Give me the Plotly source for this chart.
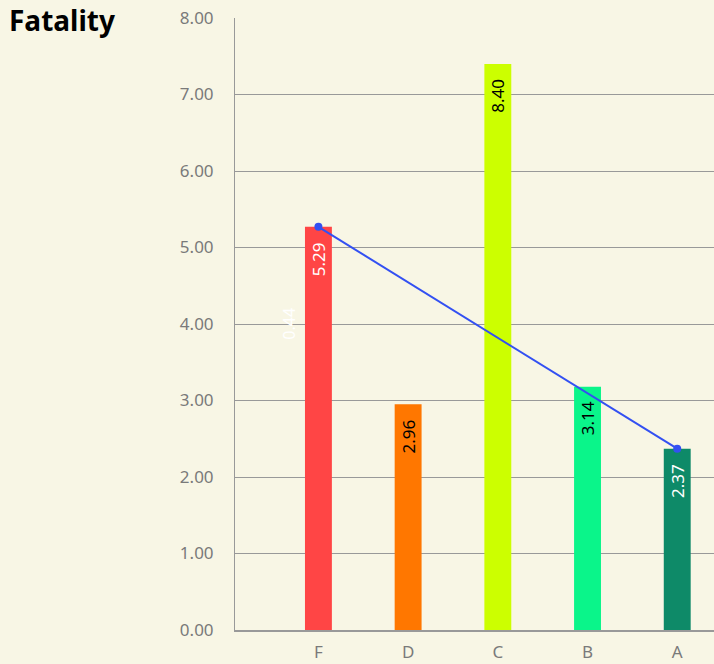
import plotly.graph_objects as go

categories = ["F", "D", "C", "B", "A"]
bar_heights = [5.27, 2.95, 7.40, 3.18, 2.37]
bar_labels = ["5.29", "2.96", "8.40", "3.14", "2.37"]
bar_colors = ["#FF4545", "#FF7700", "#CCFF00", "#0AF58A", "#0E8A68"]
label_colors = ["white", "black", "black", "black", "white"]
line_values = [5.27, None, None, None, 2.37]
y_ticks = [0, 1, 2, 3, 4, 5, 6, 7, 8]
extra_label = "0.44"
extra_label_y = 4.01

fig = go.Figure()
fig.add_trace(
    go.Bar(
        x=categories,
        y=bar_heights,
        marker=dict(color=bar_colors, line=dict(width=0)),
        width=0.3,
        hovertext=bar_labels,
        showlegend=False,
    )
)
fig.add_trace(
    go.Scatter(
        x=categories,
        y=line_values,
        mode="lines+markers",
        connectgaps=True,
        line=dict(color="#3350F2", width=2),
        marker=dict(color="#3350F2", size=8),
        showlegend=False,
    )
)

# value labels, rotated, inside the top of each bar
for cat, h, lab, col in zip(categories, bar_heights, bar_labels, label_colors):
    fig.add_annotation(
        x=cat, y=h, text=lab, textangle=-90,
        yanchor="top", yshift=-13, showarrow=False,
        font=dict(color=col, size=17, family="Noto Sans"),
    )

fig.add_annotation(
    x=categories[0], y=extra_label_y, text=extra_label, textangle=-90,
    xshift=-29, showarrow=False,
    font=dict(color="white", size=16, family="Noto Sans"),
)
fig.add_annotation(
    xref="paper", yref="paper", x=-0.475, y=0.997, xanchor="left", yanchor="middle",
    text="<b>Fatality</b>", showarrow=False,
    font=dict(color="black", size=28, family="Noto Sans"),
)

fig.update_layout(
    width=714,
    height=664,
    margin=dict(l=235, r=0, t=18, b=34),
    paper_bgcolor="#F8F6E5",
    plot_bgcolor="rgba(0,0,0,0)",
    font=dict(family="Noto Sans", color="#7A7A7A", size=17),
)
fig.update_xaxes(
    range=[-0.93, 4.41],
    showgrid=False,
    showline=True,
    linecolor="#999999",
    linewidth=1.5,
    ticks="",
    ticklabelstandoff=6,
    automargin=False,
    tickfont=dict(size=17, color="#7A7A7A"),
)
fig.update_yaxes(
    range=[0, 8],
    tickvals=y_ticks,
    tickformat=".2f",
    showgrid=True,
    gridcolor="#999999",
    gridwidth=1,
    showline=True,
    linecolor="#999999",
    linewidth=1,
    zeroline=False,
    ticks="",
    ticklabelstandoff=17,
    automargin=False,
    tickfont=dict(size=17, color="#7A7A7A"),
)

fig.write_html(
    "out.html",
    config={"displayModeBar": False},
    post_script="document.body.style.margin='0';document.body.style.background='#F8F6E5';",
)
